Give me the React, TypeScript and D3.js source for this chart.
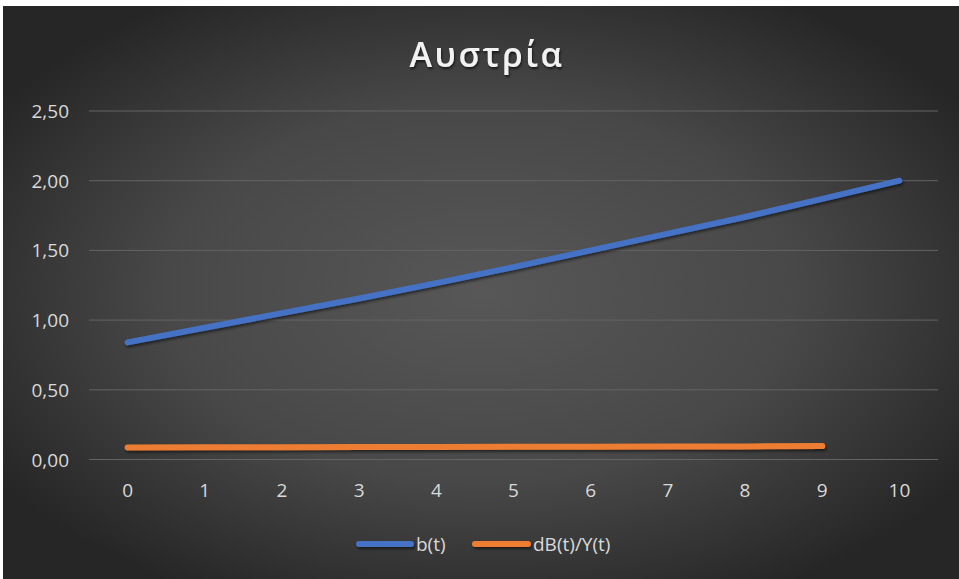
import React from "react";
import * as d3 from "d3";

const years = ["0", "1", "2", "3", "4", "5", "6", "7", "8", "9", "10"];
const debtRatio = [0.84, 0.945, 1.05, 1.155, 1.265, 1.38, 1.5, 1.62, 1.74, 1.87, 2.0];
const deficitRatio = [0.086, 0.087, 0.088, 0.089, 0.09, 0.091, 0.092, 0.093, 0.094, 0.096];
const yTicks = [0, 0.5, 1, 1.5, 2, 2.5];
const seriesNames = ["b(t)", "dB(t)/Y(t)"];
const seriesColors = ["#4472C4", "#ED7D31"];

const W = 959;
const H = 579;
const FONT = "'Open Sans', 'Noto Sans', sans-serif";

export default function App() {
  const x = d3.scaleBand<string>().domain(years).range([89, 938]);
  const y = d3.scaleLinear().domain([0, 2.5]).range([459.5, 111]);
  const cx = (i: number) => (x(years[i]) as number) + x.bandwidth() / 2;

  const line = d3
    .line<number>()
    .x((_, i) => cx(i))
    .y((d) => y(d));

  const fmt = (v: number) => v.toFixed(2).replace(".", ",");
  const series = [debtRatio, deficitRatio];

  return (
    <div style={{ position: "fixed", left: 0, top: 0 }}>
      <svg width={W} height={H} style={{ display: "block", background: "#fff" }}>
        <defs>
          <radialGradient id="bg" cx="50%" cy="50%" r="60%">
            <stop offset="0%" stopColor="#575757" />
            <stop offset="55%" stopColor="#484848" />
            <stop offset="100%" stopColor="#262626" />
          </radialGradient>
          <filter id="shadow" filterUnits="userSpaceOnUse" x={0} y={0} width={W} height={H}>
            <feDropShadow dx="1" dy="2" stdDeviation="1.5" floodColor="#000" floodOpacity="0.55" />
          </filter>
          <filter id="tshadow">
            <feDropShadow dx="1" dy="2" stdDeviation="1.2" floodColor="#000" floodOpacity="0.6" />
          </filter>
        </defs>
        <rect x={3} y={6} width={W - 3} height={H - 6} fill="url(#bg)" />

        <text
          x={487}
          y={67}
          textAnchor="middle"
          fill="#f2f2f2"
          fontFamily={FONT}
          fontWeight={600}
          fontSize={34}
          letterSpacing={2.5}
          filter="url(#tshadow)"
        >
          Αυστρία
        </text>

        {yTicks.map((t) => (
          <g key={t}>
            <line x1={89} x2={938} y1={y(t)} y2={y(t)} stroke="#646464" strokeWidth={1} />
            <text
              x={69}
              y={y(t) + 7}
              textAnchor="end"
              fill="#d9d9d9"
              fontFamily={FONT}
              fontSize={19}
            >
              {fmt(t)}
            </text>
          </g>
        ))}

        {years.map((yr, i) => (
          <text
            key={yr}
            x={cx(i)}
            y={497}
            textAnchor="middle"
            fill="#d9d9d9"
            fontFamily={FONT}
            fontSize={19}
          >
            {yr}
          </text>
        ))}

        {series.map((s, k) => (
          <path
            key={k}
            d={line(s) as string}
            fill="none"
            stroke={seriesColors[k]}
            strokeWidth={6}
            strokeLinecap="round"
            strokeLinejoin="round"
            filter="url(#shadow)"
          />
        ))}

        {[
          { x1: 359, x2: 411, tx: 416 },
          { x1: 475, x2: 528, tx: 533 },
        ].map((l, k) => (
          <g key={k}>
            <line
              x1={l.x1}
              x2={l.x2}
              y1={544}
              y2={544}
              stroke={seriesColors[k]}
              strokeWidth={6}
              strokeLinecap="round"
              filter="url(#shadow)"
            />
            <text x={l.tx} y={551} fill="#d9d9d9" fontFamily={FONT} fontSize={19}>
              {seriesNames[k]}
            </text>
          </g>
        ))}
      </svg>
    </div>
  );
}
